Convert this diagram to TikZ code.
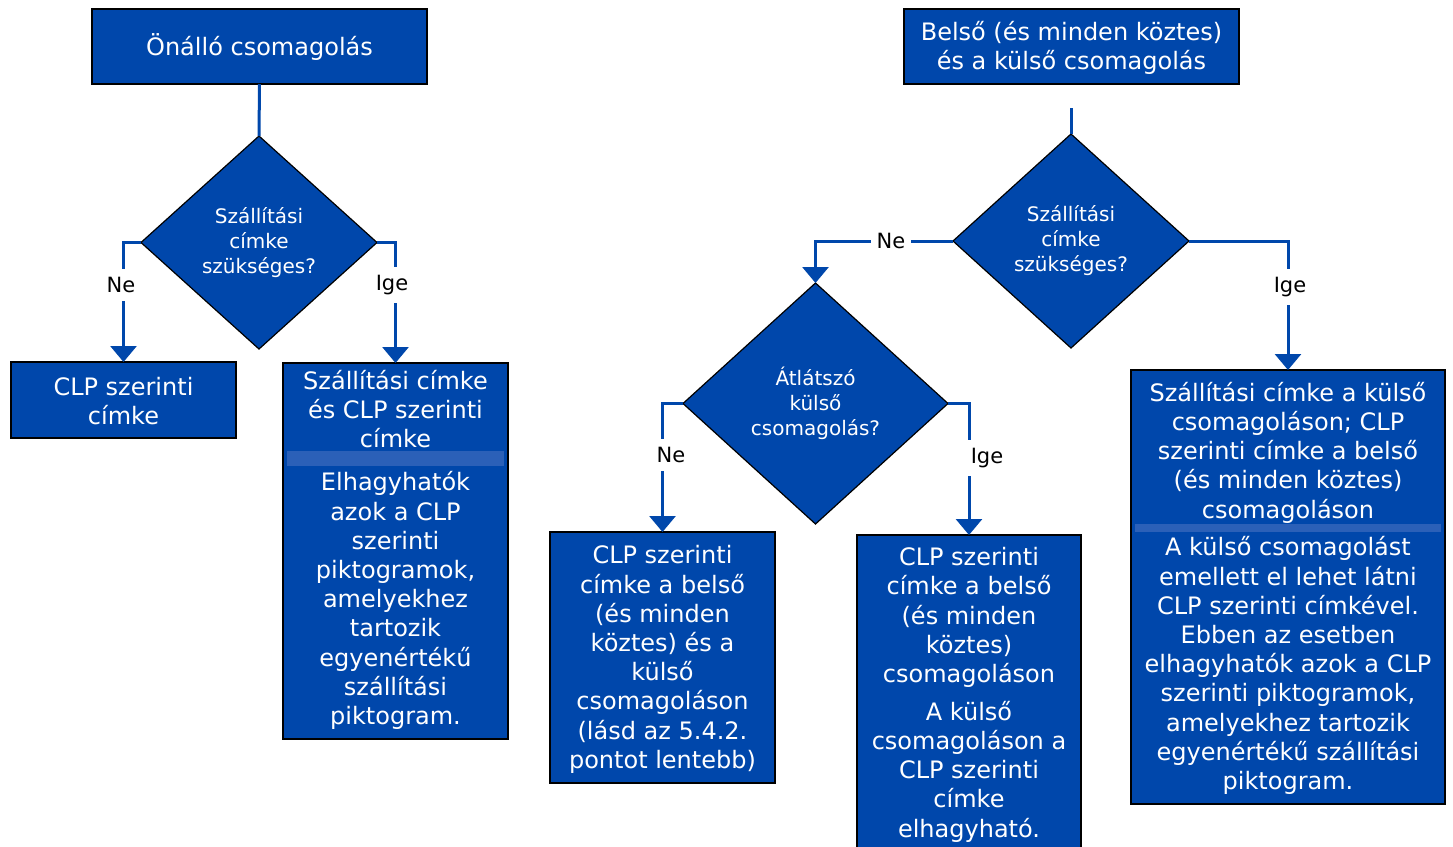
\documentclass[tikz,border=0pt]{standalone}
\usepackage{fontspec}
\setmainfont{DejaVu Sans}
\usetikzlibrary{shapes.geometric,arrows.meta}
\definecolor{cobalt}{HTML}{0047AB}
\definecolor{bandblue}{HTML}{2B60B8}
\tikzset{
  box/.style={rectangle,draw=black,line width=0.9pt,fill=cobalt,inner sep=0pt,outer sep=0pt},
  dia/.style={diamond,draw=black,line width=0.6pt,fill=cobalt,inner sep=0pt,outer sep=0pt,text=white,align=center,
     font=\fontsize{10pt}{12.5pt}\selectfont},
  boxtext/.style={text=white,align=center,inner sep=0pt,font=\fontsize{12pt}{14.6pt}\selectfont},
  band/.style={fill=bandblue,draw=none},
  link/.style={draw=cobalt,line width=1.5pt},
  flow/.style={link,-{Triangle[width=13pt,length=8pt]}},
  lbl/.style={fill=white,inner xsep=3pt,inner ysep=4pt,text=black,font=\fontsize{10.5pt}{12pt}\selectfont}
}
\begin{document}
\begin{tikzpicture}[x=0.5pt,y=-0.5pt]
\clip (0,0) rectangle (1453,847);
\fill[white] (0,0) rectangle (1453,847);

% left branch
\node[box,minimum width=167.5pt,minimum height=37.5pt] (a) at (259.5,46.5) {};
\node[boxtext] (ta) at (259.5,47) {Önálló csomagolás};
\node[dia,minimum width=118pt,minimum height=106.5pt] (d1) at (259,242.5) {Szállítási\\címke\\szükséges?};
\node[box,minimum width=112.5pt,minimum height=38pt] (b) at (123.5,400) {};
\node[boxtext] (tb) at (123.5,401) {CLP szerinti\\címke};
\node[box,minimum width=112.5pt,minimum height=188pt] (c) at (395.5,551) {};
\fill[band] (287,451) rectangle (504,466);
\node[boxtext] (tc1) at (395.5,409) {Szállítási címke\\és CLP szerinti\\címke};
\node[boxtext] (tc2) at (395.5,600.5) {Elhagyhatók\\azok a CLP\\szerinti\\piktogramok,\\amelyekhez\\tartozik\\egyenértékű\\szállítási\\piktogram.};

% right branch
\node[box,minimum width=167.5pt,minimum height=37.5pt] (e) at (1071.5,46.5) {};
\node[boxtext] (te) at (1071.5,48) {Belső (és minden köztes)\\és a külső csomagolás};
\coordinate (e1) at (1071,108);
\node[dia,minimum width=118pt,minimum height=107pt] (d2) at (1071,241) {Szállítási\\címke\\szükséges?};
\node[dia,minimum width=132.5pt,minimum height=120.5pt] (d3) at (815.5,403.5) {Átlátszó\\külső\\csomagolás?};
\node[box,minimum width=112.5pt,minimum height=125.5pt] (f) at (662.5,657.5) {};
\node[boxtext] (tf) at (662.5,659.5) {CLP szerinti\\címke a belső\\(és minden\\köztes) és a\\külső\\csomagoláson\\(lásd az 5.4.2.\\pontot lentebb)};
\node[box,minimum width=112pt,minimum height=162.5pt] (g) at (969,697.5) {};
\node[boxtext] (tg1) at (969,617.5) {CLP szerinti\\címke a belső\\(és minden\\köztes)\\csomagoláson};
\node[boxtext] (tg2) at (969,771.5) {A külső\\csomagoláson a\\CLP szerinti\\címke\\elhagyható.};
\node[box,minimum width=157pt,minimum height=217pt] (h) at (1288,587) {};
\fill[band] (1135,524) rectangle (1441,532);
\node[boxtext] (th1) at (1288,452.5) {Szállítási címke a külső\\csomagoláson; CLP\\szerinti címke a belső\\(és minden köztes)\\csomagoláson};
\node[boxtext] (th2) at (1288,665.5) {A külső csomagolást\\emellett el lehet látni\\CLP szerinti címkével.\\Ebben az esetben\\elhagyhatók azok a CLP\\szerinti piktogramok,\\amelyekhez tartozik\\egyenértékű szállítási\\piktogram.};

% connectors
\draw[link] (a.south) -- (d1.north);
\draw[flow] (d1.west) -| (b.north);
\draw[flow] (d1.east) -| (c.north);
\draw[link] (e1) -- (d2.north);
\draw[flow] (d2.west) -| (d3.north);
\draw[flow] (d2.east) -| (h.north);
\draw[flow] (d3.west) -| (f.north);
\draw[flow] (d3.east) -| (g.north);

% labels
\node[lbl] (l1) at (121,285) {Ne};
\node[lbl] (l2) at (392,285) {Ige};
\node[lbl] (l3) at (891,241) {Ne};
\node[lbl] (l4) at (1290,287) {Ige};
\node[lbl] (l5) at (671,455) {Ne};
\node[lbl] (l6) at (987,458) {Ige};
\end{tikzpicture}
\end{document}
